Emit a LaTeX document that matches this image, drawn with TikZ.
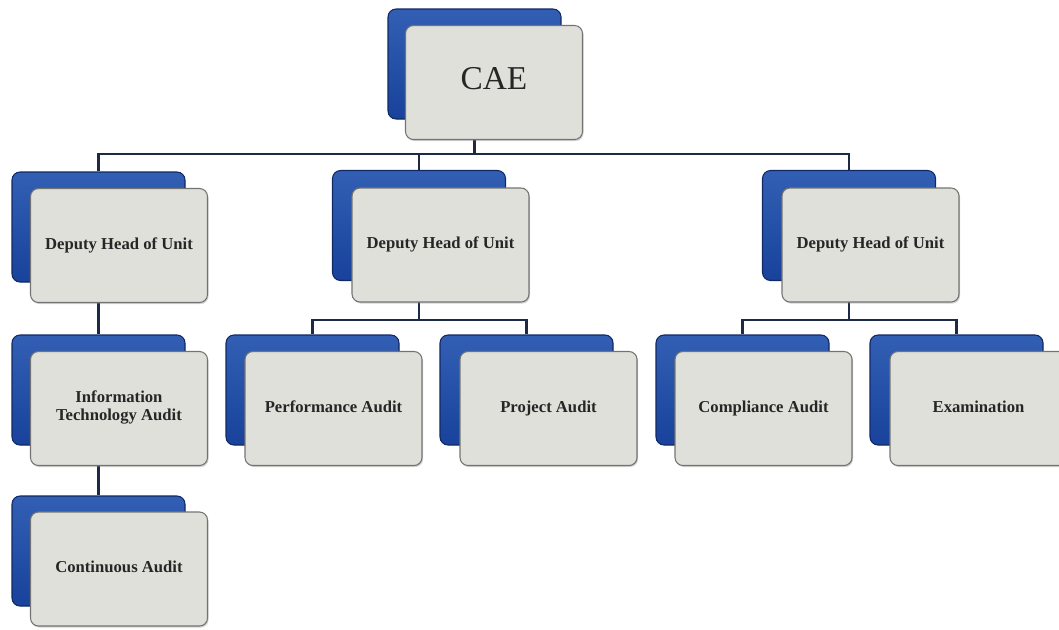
\documentclass[tikz,border=0pt]{standalone}
\usepackage{fontspec}
\setmainfont{Liberation Serif}
\usetikzlibrary{backgrounds,shadows}
\definecolor{unitblue}{RGB}{24,66,155}
\definecolor{unitbluetop}{RGB}{50,95,180}
\definecolor{unitbluedark}{RGB}{16,40,100}
\definecolor{unitgray}{RGB}{224,224,218}
\definecolor{unitedge}{RGB}{115,115,115}
\definecolor{linknavy}{RGB}{28,42,70}
\begin{document}
\begin{tikzpicture}[x=0.75pt,y=0.75pt,yscale=-1,xscale=1,
  back/.style={draw=unitbluedark,line width=0.8pt,rounded corners=6pt,
    top color=unitbluetop,bottom color=unitblue,
    minimum width=129.75pt,minimum height=82.5pt,inner sep=0pt},
  front/.style={draw=unitedge,line width=0.8pt,fill=unitgray,rounded corners=6pt,
    drop shadow={opacity=0.35,shadow xshift=0.8pt,shadow yshift=-1.2pt},
    minimum width=132.75pt,minimum height=85.5pt,inner sep=2pt,align=center,
    execute at begin node=\strut,
    font=\fontsize{12.5}{14}\selectfont\bfseries,text=black!85},
  link/.style={draw=linknavy,line width=1.6pt}]
%set diagram left start at 0, and has height of 629
\useasboundingbox (0,0) rectangle (1059,629);

%Unit boxes: blue back plate, gray front plate
\node [back] (caeB) at (474.5,64) {};
\node [front,execute at begin node={},font=\fontsize{25}{28}\selectfont] (cae) at (494,82.5) {CAE};

\node [back] (depLB) at (98.5,227) {};
\node [front] (depL) at (119,245.5) {Deputy Head of Unit};
\node [back] (depMB) at (419,225.5) {};
\node [front] (depM) at (440.5,245) {Deputy Head of Unit};
\node [back] (depRB) at (849,225.5) {};
\node [front] (depR) at (870.5,245) {Deputy Head of Unit};

\node [back] (itB) at (98.5,390) {};
\node [front] (it) at (119,408.5) {Information\\Technology Audit};
\node [back] (contB) at (98.5,551) {};
\node [front] (cont) at (119,569) {Continuous Audit};

\node [back] (perfB) at (312.5,390) {};
\node [front] (perf) at (333.5,408.5) {Performance Audit};
\node [back] (projB) at (526.5,390) {};
\node [front] (proj) at (548.5,408.5) {Project Audit};

\node [back] (compB) at (742.5,390) {};
\node [front] (comp) at (763.5,408.5) {Compliance Audit};
\node [back] (examB) at (956.5,390) {};
\node [front] (exam) at (978.5,408.5) {Examination};

%Connectors
\coordinate (busTop) at (0,154);
\coordinate (busMid) at (0,320);
\begin{scope}[on background layer]
\draw [link] (caeB.center) -- (caeB.center |- busTop) -| (depLB.north);
\draw [link] (caeB.center |- busTop) -| (depMB.north);
\draw [link] (caeB.center |- busTop) -| (depRB.north);
\draw [link] (depLB.center) -- (itB.north);
\draw [link] (itB.center) -- (contB.north);
\draw [link] (depMB.center) -- (depMB.center |- busMid) -| (perfB.north);
\draw [link] (depMB.center |- busMid) -| (projB.north);
\draw [link] (depRB.center) -- (depRB.center |- busMid) -| (compB.north);
\draw [link] (depRB.center |- busMid) -| (examB.north);
\end{scope}
\end{tikzpicture}
\end{document}
